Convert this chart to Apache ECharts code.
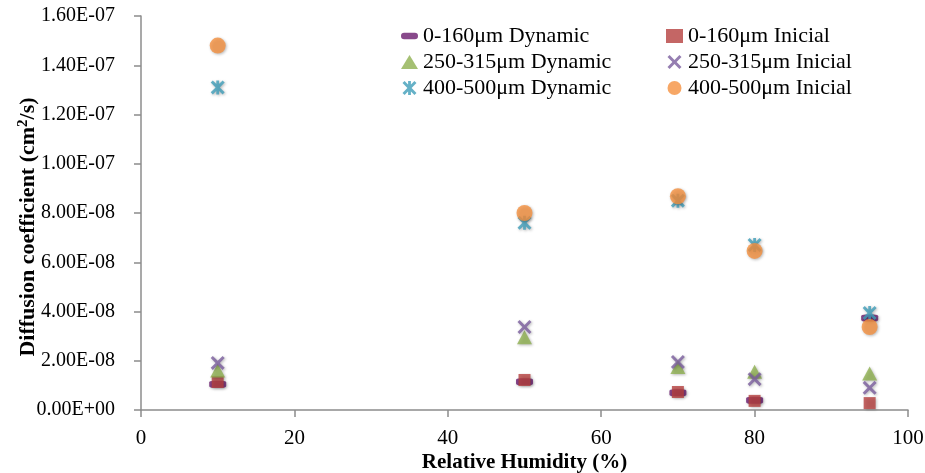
<!DOCTYPE html>
<html>
<head>
<meta charset="utf-8">
<script src="https://cdn.jsdelivr.net/npm/echarts@6/dist/echarts.min.js"></script>
<style>html,body{margin:0;padding:0;background:#fff}#c{width:925px;height:473px}</style>
</head>
<body>
<div id="c"></div>
<script>
const humidity = [10, 50, 70, 80, 95];
const d0_160Dynamic   = [1.05e-8, 1.15e-8, 0.70e-8, 0.40e-8, 3.74e-8];
const d0_160Inicial   = [1.14e-8, 1.22e-8, 0.73e-8, 0.37e-8, 0.28e-8];
const d250_315Dynamic = [1.60e-8, 2.95e-8, 1.75e-8, 1.55e-8, 1.48e-8];
const d250_315Inicial = [1.91e-8, 3.37e-8, 1.95e-8, 1.25e-8, 0.90e-8];
const d400_500Dynamic = [1.31e-7, 7.60e-8, 8.50e-8, 6.70e-8, 3.94e-8];
const d400_500Inicial = [1.48e-7, 8.00e-8, 8.68e-8, 6.46e-8, 3.37e-8];
const xTicks = [0, 20, 40, 60, 80, 100];

const font = 'Liberation Serif';
const X_PATH = 'path://M0,1.5 L1.5,0 L5,3.5 L8.5,0 L10,1.5 L6.5,5 L10,8.5 L8.5,10 L5,6.5 L1.5,10 L0,8.5 L3.5,5 Z';
const STAR_PATH = 'path://M0,1.5 L1.5,0 L5,3.5 L8.5,0 L10,1.5 L6.5,5 L10,8.5 L8.5,10 L5,6.5 L1.5,10 L0,8.5 L3.5,5 Z M4,0 L6,0 L6,10 L4,10 Z';
const DASH_PATH = 'path://M3,0 L13,0 A3,3 0 0 1 13,6 L3,6 A3,3 0 0 1 3,0 Z';

function pairs(vals){ return humidity.map((h,i)=>[h, vals[i]]); }
const shadow = {shadowBlur: 3, shadowColor: 'rgba(0,0,0,0.35)', shadowOffsetX: 1, shadowOffsetY: 1};

const seriesDefs = [
  {name:'0-160μm Dynamic', data:d0_160Dynamic, symbol:'roundRect', size:[17,7], color:'#6a1b6e'},
  {name:'0-160μm Inicial', data:d0_160Inicial, symbol:'rect', size:[12,12], color:'#b5403f'},
  {name:'250-315μm Dynamic', data:d250_315Dynamic, symbol:'triangle', size:[15,14], color:'#8fb050'},
  {name:'250-315μm Inicial', data:d250_315Inicial, symbol:X_PATH, size:[14,14], color:'#7a5e9e'},
  {name:'400-500μm Dynamic', data:d400_500Dynamic, symbol:STAR_PATH, size:[14,14], color:'#3f9db9'},
  {name:'400-500μm Inicial', data:d400_500Inicial, symbol:'circle', size:[16,16], color:'#f59140'}
];

function fmtE(v){
  if (v === 0) return '0.00E+00';
  let s = v.toExponential(2).toUpperCase();
  let [m, e] = s.split('E');
  let sign = e[0] === '-' ? '-' : '+';
  let n = e.replace(/[+-]/,'');
  if (n.length < 2) n = '0' + n;
  return m + 'E' + sign + n;
}

const legendText = {fontFamily:font, fontSize:22, color:'#000'};
const chart = echarts.init(document.getElementById('c'));
chart.setOption({
  animation: false,
  backgroundColor: '#fff',
  grid: {left: 141, right: 17, top: 16, bottom: 63, outerBoundsMode: 'none', containLabel: false},
  legend: [
    {orient:'vertical', left: 396, top: 20, itemGap: 4, itemWidth: 17, itemHeight: 14,
     textStyle: legendText,
     data:[{name:'0-160μm Dynamic', icon: DASH_PATH},'250-315μm Dynamic','400-500μm Dynamic']},
    {orient:'vertical', left: 661, top: 20, itemGap: 4, itemWidth: 17, itemHeight: 14,
     textStyle: legendText,
     data:['0-160μm Inicial','250-315μm Inicial','400-500μm Inicial']}
  ],
  xAxis: {
    type: 'value', min: 0, max: 100, interval: 20,
    name: 'Relative Humidity (%)', nameLocation: 'middle', nameGap: 42, nameMoveOverlap: false,
    nameTextStyle: {fontFamily: font, fontSize: 21, fontWeight: 'bold', color: '#000'},
    axisLine: {show: true, lineStyle: {color: '#8c8c8c', width: 1.5}},
    axisTick: {show: true, inside: false, length: 7, lineStyle: {color: '#8c8c8c', width: 1.5}},
    axisLabel: {fontFamily: font, fontSize: 21, color: '#000', margin: 18,
      formatter: v => xTicks.includes(v) ? String(v) : ''},
    splitLine: {show: false}
  },
  yAxis: {
    type: 'value', min: 0, max: 1.6e-7, interval: 2e-8,
    name: 'Diffusion coefficient (cm{sup|2}/s)', nameLocation: 'middle', nameGap: 101, nameRotate: 90, nameMoveOverlap: false,
    nameTextStyle: {fontFamily: font, fontSize: 22, fontWeight: 'bold', color: '#000', padding: [0, 28, 0, 0],
      rich: {sup: {fontFamily: font, fontSize: 15, fontWeight: 'bold', color: '#000', verticalAlign: 'top', padding: [0,0,9,0]}}},
    axisLine: {show: true, lineStyle: {color: '#8c8c8c', width: 1.5}},
    axisTick: {show: true, inside: false, length: 7, lineStyle: {color: '#8c8c8c', width: 1.5}},
    axisLabel: {fontFamily: font, fontSize: 20, color: '#000', margin: 26, formatter: v => fmtE(v)},
    splitLine: {show: false}
  },
  series: seriesDefs.map(s => ({
    name: s.name, type: 'scatter', data: pairs(s.data),
    symbol: s.symbol, symbolSize: s.size,
    itemStyle: Object.assign({color: s.color}, shadow),
    emphasis: {disabled: true}
  }))
});
</script>
</body>
</html>
